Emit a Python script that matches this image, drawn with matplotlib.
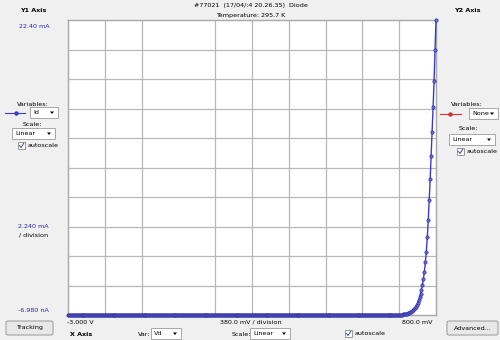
import numpy as np
import matplotlib
matplotlib.use("Agg")
import matplotlib.pyplot as plt
from matplotlib.patches import Rectangle, FancyBboxPatch

# ---------------- data ----------------
# sweep of Vd (V); flat part of the curve reads 0 mA
v_flat = [round(-3.0 + 0.01 * k, 2) for k in range(340)]   # -3.00 .. 0.39 V sweep steps
i_flat = [0.0] * len(v_flat)
v_rise = [0.40, 0.41, 0.42, 0.43, 0.44, 0.45, 0.46, 0.47, 0.48, 0.49,
          0.50, 0.51, 0.52, 0.53, 0.54, 0.55, 0.56, 0.57, 0.58, 0.59,
          0.60, 0.61, 0.62, 0.63, 0.64, 0.65, 0.66, 0.67, 0.68, 0.69,
          0.70, 0.71, 0.72, 0.73, 0.74, 0.75, 0.76, 0.77, 0.78, 0.79, 0.80]
i_rise = [0.00, 0.01, 0.01, 0.02, 0.02, 0.03, 0.04, 0.05, 0.06, 0.08,
          0.10, 0.12, 0.15, 0.19, 0.23, 0.28, 0.35, 0.43, 0.52, 0.63,
          0.76, 0.92, 1.11, 1.33, 1.60, 1.92, 2.30, 2.75, 3.30, 4.00,
          4.80, 5.90, 7.20, 8.70, 10.35, 12.10, 13.90, 15.80, 17.80, 20.10, 22.40]
vd = v_flat + v_rise
id_ma = i_flat + i_rise

x_min, x_max, x_div = -3.0, 0.8, 0.38
y_min, y_max, y_div = -6.98e-6, 22.40, 2.24
n_div = 10

# ---------------- figure ----------------
W, H = 500, 340
fig = plt.figure(figsize=(W / 100, H / 100), dpi=100)
fig.patch.set_facecolor("#f0f0f0")

def fx(px):
    return px / W

def fy(py):
    return 1 - py / H

FS = 4.6
BLUE_TXT = "#2424b8"

ax = fig.add_axes([fx(68), fy(315), fx(436) - fx(68), fy(20) - fy(315)])
ax.set_facecolor("white")
ax.set_xlim(x_min, x_max)
ax.set_ylim(y_min, y_max)
for s in ax.spines.values():
    s.set_color("#a8a8a8")
    s.set_linewidth(1.0)
ax.set_xticks([])
ax.set_yticks([])

# grid (one vertical division line is not drawn in the reference)
for k in range(1, n_div):
    if k == 3:
        continue
    ax.axvline(x_min + k * x_div, color="#b8b8b8", lw=0.9, zorder=1)
for k in range(1, n_div):
    ax.axhline(y_min + k * y_div, color="#b8b8b8", lw=0.9, zorder=1)

ax.plot(vd[:341], id_ma[:341], color="#2a2ad8", lw=2.0, zorder=2, clip_on=False)
ax.plot(vd, id_ma, color="#3a3ad0", lw=1.0, marker="o", ms=2.4,
        mfc="#6a6ad0", mec="#2a2aa0", mew=0.45, zorder=3, clip_on=False)

# ---------------- header texts ----------------
fig.text(fx(251), fy(6), "#77021  (17/04/:4 20.26.35)  Diode", ha="center", va="center", fontsize=FS)
fig.text(fx(251), fy(16), "Temperature: 295.7 K", ha="center", va="center", fontsize=FS)
fig.text(fx(33), fy(10), "Y1 Axis", ha="center", va="center", fontsize=FS, fontweight="bold")
fig.text(fx(467), fy(10), "Y2 Axis", ha="center", va="center", fontsize=FS, fontweight="bold")

fig.text(fx(34), fy(26), "22.40 mA", ha="center", va="center", fontsize=FS, color=BLUE_TXT)
fig.text(fx(33), fy(226), "2.240 mA", ha="center", va="center", fontsize=FS, color=BLUE_TXT)
fig.text(fx(34), fy(235), "/ division", ha="center", va="center", fontsize=FS)
fig.text(fx(33), fy(310), "-6.980 nA", ha="center", va="center", fontsize=FS, color=BLUE_TXT)

def dropdown(x0, y0, w, h, label):
    r = Rectangle((fx(x0), fy(y0 + h)), fx(w), h / H, transform=fig.transFigure,
                  facecolor="white", edgecolor="#9a9a9a", lw=0.6)
    fig.add_artist(r)
    fig.text(fx(x0 + 3), fy(y0 + h / 2), label, ha="left", va="center", fontsize=FS)
    ax_x = x0 + w - 6
    fig.add_artist(plt.Polygon([(fx(ax_x - 2), fy(y0 + h / 2 - 1)), (fx(ax_x + 2), fy(y0 + h / 2 - 1)),
                                (fx(ax_x), fy(y0 + h / 2 + 1.5))], closed=True,
                               transform=fig.transFigure, color="black", lw=0))

def checkbox(x0, y0, label):
    r = Rectangle((fx(x0), fy(y0 + 7)), fx(7), 7 / H, transform=fig.transFigure,
                  facecolor="white", edgecolor="#8a8a8a", lw=0.6)
    fig.add_artist(r)
    fig.add_artist(plt.Line2D([fx(x0 + 1.5), fx(x0 + 3), fx(x0 + 5.8)],
                              [fy(y0 + 3.5), fy(y0 + 5.5), fy(y0 + 1.2)],
                              transform=fig.transFigure, color="#3050a0", lw=0.7))
    fig.text(fx(x0 + 10), fy(y0 + 3.5), label, ha="left", va="center", fontsize=FS)

def button(x0, y0, w, h, label):
    b = FancyBboxPatch((fx(x0), fy(y0 + h)), fx(w), h / H, boxstyle="round,pad=0,rounding_size=0.004",
                       transform=fig.transFigure, facecolor="#e8e8e8", edgecolor="#8a8a8a", lw=0.6)
    fig.add_artist(b)
    fig.text(fx(x0 + w / 2), fy(y0 + h / 2), label, ha="center", va="center", fontsize=FS)

# left (Y1) controls
fig.text(fx(33), fy(104), "Variables:", ha="center", va="center", fontsize=FS)
fig.add_artist(plt.Line2D([fx(5), fx(25)], [fy(113), fy(113)], transform=fig.transFigure,
                          color="#3a3ad0", lw=0.8))
fig.add_artist(plt.Line2D([fx(16)], [fy(113)], transform=fig.transFigure, color="#3a3ad0",
                          marker="o", ms=2.2, lw=0))
dropdown(30, 107, 28, 11, "Id")
fig.text(fx(32), fy(124), "Scale:", ha="center", va="center", fontsize=FS)
dropdown(12, 128, 43, 11, "Linear")
checkbox(18, 142, "autoscale")

# right (Y2) controls
fig.text(fx(467), fy(105), "Variables:", ha="center", va="center", fontsize=FS)
fig.add_artist(plt.Line2D([fx(440), fx(461)], [fy(114), fy(114)], transform=fig.transFigure,
                          color="#d03030", lw=0.8))
fig.add_artist(plt.Line2D([fx(450)], [fy(114)], transform=fig.transFigure, color="#d03030",
                          marker="o", ms=2.2, lw=0))
dropdown(469, 108, 29, 11, "None")
fig.text(fx(468), fy(128), "Scale:", ha="center", va="center", fontsize=FS)
dropdown(449, 134, 46, 11, "Linear")
checkbox(457, 148, "autoscale")

# bottom (X) area
fig.text(fx(80), fy(322), "-3.000 V", ha="center", va="center", fontsize=FS)
fig.text(fx(251), fy(322), "380.0 mV / division", ha="center", va="center", fontsize=FS)
fig.text(fx(417), fy(322), "800.0 mV", ha="center", va="center", fontsize=FS)
fig.text(fx(70), fy(334), "X Axis", ha="left", va="center", fontsize=FS, fontweight="bold")
fig.text(fx(138), fy(334), "Var:", ha="left", va="center", fontsize=FS)
dropdown(151, 328, 30, 11, "Vd")
fig.text(fx(232), fy(334), "Scale:", ha="left", va="center", fontsize=FS)
dropdown(250, 328, 40, 11, "Linear")
checkbox(345, 330, "autoscale")
button(6, 321, 47, 14, "Tracking")
button(447, 321, 51, 14, "Advanced...")

fig.savefig("out.png", dpi=100, facecolor=fig.get_facecolor())
